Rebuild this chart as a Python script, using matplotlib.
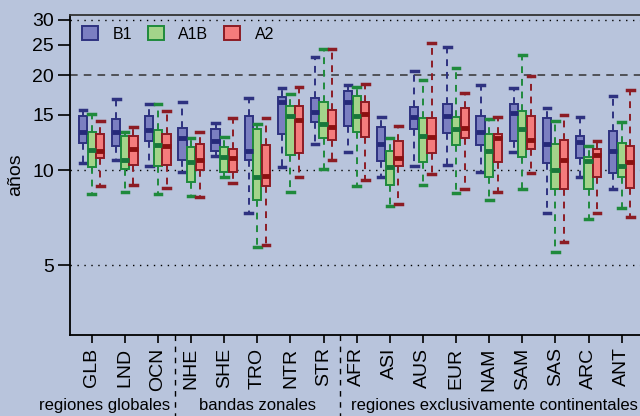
import numpy as np
import matplotlib
matplotlib.use("Agg")
import matplotlib.pyplot as plt
from matplotlib.patches import Patch
import matplotlib.transforms as mtransforms

plt.rcParams['font.family'] = ['Liberation Sans', 'DejaVu Sans']

regions = ["GLB", "LND", "OCN", "NHE", "SHE", "TRO", "NTR", "STR", "AFR",
           "ASI", "AUS", "EUR", "NAM", "SAM", "SAS", "ARC", "ANT"]
series = ["B1", "A1B", "A2"]

# five-number summaries (años)
b1_hi = [15.5, 16.8, 16.2, 16.4, 14.1, 16.9, 18.2, 22.9, 18.6, 14.7, 20.6, 24.5, 18.6, 18.2, 15.7, 14.7, 17.2]
b1_q3 = [14.9, 14.5, 14.9, 13.6, 13.5, 14.8, 17.1, 16.9, 17.8, 13.7, 15.9, 16.2, 14.9, 16.2, 14.6, 12.8, 13.3]
b1_med = [13.2, 13.2, 13.4, 12.6, 12.4, 11.5, 16.4, 15.3, 16.5, 12.1, 14.7, 14.9, 13.2, 15.2, 12.1, 12.3, 11.5]
b1_q1 = [12.2, 11.9, 12.4, 10.8, 11.5, 10.8, 13.0, 14.2, 13.8, 10.7, 13.5, 13.1, 12.0, 12.4, 10.5, 10.9, 9.8]
b1_lo = [10.5, 10.8, 10.3, 9.9, 11.1, 7.3, 10.2, 12.1, 11.4, 9.5, 10.3, 10.4, 9.9, 11.4, 7.3, 9.5, 8.7]

a1b_hi = [15.1, 13.2, 16.2, 12.6, 12.7, 14.0, 17.5, 24.3, 18.3, 12.6, 19.3, 21.1, 14.5, 23.2, 14.3, 11.9, 14.2]
a1b_q3 = [13.2, 12.8, 13.4, 11.8, 11.8, 13.5, 16.0, 16.5, 17.2, 11.5, 14.6, 14.7, 13.0, 15.4, 12.1, 11.0, 12.2]
a1b_med = [11.6, 10.8, 12.0, 10.6, 11.0, 9.5, 14.9, 14.0, 14.9, 10.2, 12.8, 13.5, 11.5, 13.5, 10.0, 10.7, 10.3]
a1b_q1 = [10.2, 10.1, 10.3, 9.2, 9.9, 8.05, 11.2, 12.6, 13.25, 9.0, 10.6, 12.0, 9.5, 11.0, 8.7, 8.7, 9.5]
a1b_lo = [8.4, 8.5, 8.4, 8.25, 9.5, 5.7, 8.5, 10.1, 8.9, 7.7, 9.0, 8.45, 8.05, 8.7, 5.5, 7.0, 7.6]

a2_hi = [14.3, 13.7, 15.4, 13.2, 14.6, 14.6, 18.4, 24.3, 18.7, 13.8, 25.3, 17.6, 14.7, 19.9, 15.0, 12.4, 18.0]
a2_q3 = [13.0, 12.8, 13.0, 12.1, 11.65, 12.05, 16.0, 15.5, 16.5, 12.4, 14.6, 15.8, 13.0, 14.8, 12.5, 11.7, 11.9]
a2_med = [11.5, 11.65, 11.9, 10.8, 10.9, 9.6, 14.4, 13.7, 15.1, 10.9, 12.7, 13.6, 12.6, 12.5, 10.8, 11.2, 10.6]
a2_q1 = [10.9, 10.4, 10.4, 10.0, 9.9, 8.9, 11.3, 12.5, 12.7, 10.3, 11.3, 12.6, 10.6, 11.7, 8.7, 9.5, 8.8]
a2_lo = [8.9, 9.0, 8.8, 8.2, 9.1, 5.8, 9.5, 10.8, 9.3, 7.8, 9.7, 8.7, 8.5, 9.8, 5.9, 7.3, 7.1]

groups = ["regiones globales", "bandas zonales", "regiones exclusivamente continentales"]
group_x = [1.4, 6.0, 13.15]
separators = [3.5, 8.5]

data = {
    "B1": (b1_lo, b1_q1, b1_med, b1_q3, b1_hi),
    "A1B": (a1b_lo, a1b_q1, a1b_med, a1b_q3, a1b_hi),
    "A2": (a2_lo, a2_q1, a2_med, a2_q3, a2_hi),
}
fills = {"B1": "#7b7fc1", "A1B": "#a3d48a", "A2": "#f47c7c"}
edges = {"B1": "#2e3280", "A1B": "#1f8a3c", "A2": "#8c1c24"}
meds = {"B1": "#25297a", "A1B": "#18773a", "A2": "#8b1010"}
offsets = {"B1": -0.26, "A1B": 0.0, "A2": 0.26}

bg = "#b8c4dc"
fig = plt.figure(figsize=(6.4, 4.16), dpi=100, facecolor=bg)
ax = fig.add_axes([70 / 640, 81 / 416, 0.9086, 320 / 416])
ax.set_facecolor(bg)
ax.set_yscale("log")

pos = np.arange(1, len(regions) + 1)

# reference lines
for v in [5, 10, 30]:
    ax.axhline(v, color="black", lw=1.0, ls=(0, (1, 4)), zorder=0)
ax.axhline(20, color="#333333", lw=1.1, ls=(0, (5, 4)), zorder=0)

for s in series:
    lo, q1, med, q3, hi = data[s]
    stats = [dict(whislo=lo[i], q1=q1[i], med=med[i], q3=q3[i], whishi=hi[i])
             for i in range(len(regions))]
    ax.bxp(stats, positions=pos + offsets[s], widths=0.25, patch_artist=True,
           showfliers=False, capwidths=0.2, manage_ticks=False,
           boxprops=dict(facecolor=fills[s], edgecolor=edges[s], lw=1.4),
           medianprops=dict(color=meds[s], lw=3.5, solid_capstyle="butt"),
           whiskerprops=dict(color=edges[s], lw=1.4, ls=(0, (3.5, 3))),
           capprops=dict(color=edges[s], lw=2.5))

ax.set_xlim(0.345, 17.9)
ax.set_ylim(3.0, 31.05)
ax.set_yticks([5, 10, 15, 20, 25, 30])
ax.set_yticklabels(["5", "10", "15", "20", "25", "30"])
ax.yaxis.set_minor_locator(matplotlib.ticker.NullLocator())
ax.set_xticks(pos)
ax.set_xticklabels(regions, rotation=90)
ax.tick_params(axis="y", labelsize=14, length=8.5, width=1.2, pad=3)
ax.tick_params(axis="x", labelsize=14, length=6, width=1.2, pad=3)
ax.set_ylabel("años", fontsize=14, labelpad=6)

for side in ["top", "left", "bottom"]:
    ax.spines[side].set_linewidth(1.3)
ax.spines["top"].set_color("#333333")

trans = mtransforms.blended_transform_factory(ax.transData, ax.transAxes)
for sx in separators:
    ax.plot([sx, sx], [0, -0.26], transform=trans, color="black", lw=1.0,
            ls=(0, (4, 4)), clip_on=False)
for g, gx in zip(groups, group_x):
    ax.text(gx, -0.198, g, transform=trans, ha="center", va="top", fontsize=12)

handles = [Patch(facecolor=fills[s], edgecolor=edges[s], lw=1.4) for s in series]
ax.legend(handles, series, loc="upper left", bbox_to_anchor=(12 / 581.5, 1 - 11 / 320),
          ncol=3, frameon=False, fontsize=11.5, handlelength=1.0, handleheight=1.0,
          handletextpad=0.9, columnspacing=1.0, borderpad=0, borderaxespad=0)

fig.savefig("out.png", dpi=100, facecolor=bg)
